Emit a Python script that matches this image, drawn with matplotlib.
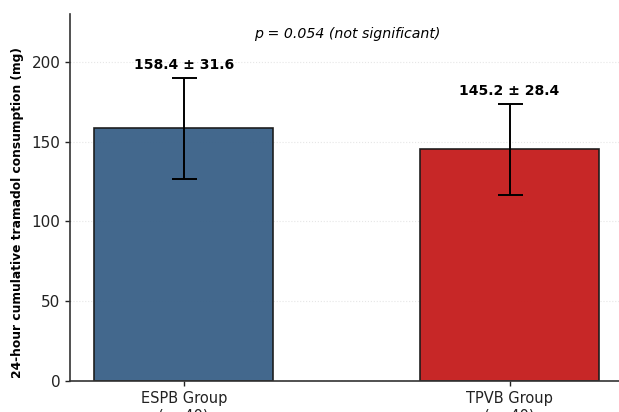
import matplotlib.pyplot as plt
import numpy as np

plt.rcParams["font.family"] = ["DejaVu Sans"]

groups = ["ESPB Group\n(n=40)", "TPVB Group\n(n=40)"]
means = [158.4, 145.2]
sds = [31.6, 28.4]
colors = ["#3d6389", "#c62020"]
p_text = "p = 0.054 (not significant)"

fig = plt.figure(figsize=(6.19, 4.12), dpi=100)
ax = fig.add_axes([70 / 619, 31 / 412, 560 / 619, 367 / 412])

x = np.arange(len(groups))
ax.bar(x, means, width=0.55, color=colors, alpha=0.97,
       edgecolor="#1a1a1a", linewidth=1.2, zorder=2)
ax.errorbar(x, means, yerr=sds, fmt="none", ecolor="black",
            elinewidth=1.4, capsize=9, capthick=1.4, zorder=3)

# mean ± sd label sits a little above each error bar
for xi, m, s in zip(x, means, sds):
    ax.text(xi, m + s + 8, f"{m} ± {s}", ha="center", va="center",
            fontsize=10.1, fontweight="bold")

ax.text(0.5, 217.5, p_text, ha="center", va="center",
        fontsize=10.2, style="italic")

ax.set_xlim(-0.35, 1.37)
ax.set_ylim(0, 230)
ax.set_yticks([0, 50, 100, 150, 200])
ax.set_xticks(x)
ax.set_xticklabels(groups, fontsize=10.5)
ax.tick_params(axis="y", labelsize=11)
ax.tick_params(colors="#222222", width=1)
ax.set_ylabel("24-hour cumulative tramadol consumption (mg)",
              fontsize=8.8, fontweight="bold")
ax.yaxis.set_label_coords(-0.082, 0.46)

ax.grid(axis="y", linestyle=":", color="#e6e6e6", linewidth=0.8, zorder=0)
ax.set_axisbelow(True)
for side in ("top", "right"):
    ax.spines[side].set_visible(False)
for side in ("left", "bottom"):
    ax.spines[side].set_color("#333333")
    ax.spines[side].set_linewidth(1.2)

fig.savefig("out.png", dpi=100)
